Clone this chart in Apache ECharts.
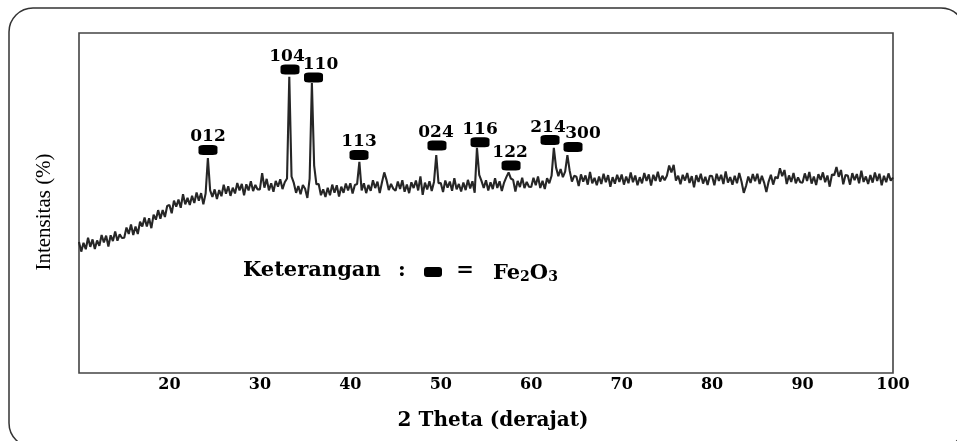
<!DOCTYPE html>
<html>
<head>
<meta charset="utf-8">
<script src="https://cdn.jsdelivr.net/npm/echarts@6/dist/echarts.min.js"></script>
<style>
html,body{margin:0;padding:0;background:#fff;}
#c{width:957px;height:441px;}
</style>
</head>
<body>
<div id="c"></div>
<script>
// ---- data ----
const thetaStart = 10;      // first 2θ sample
const thetaStep = 0.25;     // sampling step of the pattern
const intensity = [
  38.5,35.7,38.3,36.4,39.8,37.1,39.3,36.5,39.0,37.4,40.6,38.4,40.4,37.2,40.5,38.8,41.6,38.9,40.8,39.7,
  39.8,42.8,40.9,43.7,40.6,43.1,40.9,44.5,43.1,45.7,43.1,45.5,42.6,46.6,45.1,47.9,45.4,47.9,45.9,49.1,
  49.4,47.0,50.7,48.9,51.0,48.6,52.6,49.6,51.5,49.4,52.1,50.0,53.1,50.7,52.9,49.6,52.8,63.2,53.7,51.8,
  54.0,51.2,53.8,52.0,55.4,52.7,54.9,52.1,54.5,52.8,55.9,53.7,55.6,52.3,55.5,53.7,56.4,53.5,55.3,54.0,
  54.0,58.8,54.5,57.1,53.7,55.8,53.3,56.5,54.8,57.0,54.1,56.1,57.2,87.1,57.8,55.9,53.0,55.0,52.6,55.3,
  54.2,51.5,57.2,85.3,61.0,55.5,55.6,52.3,54.0,51.8,54.5,52.3,55.4,53.0,55.2,51.9,54.8,53.0,55.7,53.7,
  55.8,52.8,55.3,55.6,62.1,53.7,55.8,52.9,55.3,53.6,56.7,54.4,56.3,52.9,56.1,59.0,56.8,53.8,55.6,54.2,
  53.6,56.3,54.1,56.7,53.3,55.4,52.9,56.1,54.4,56.6,53.7,57.8,52.4,56.0,54.0,56.4,53.5,56.2,64.1,55.8,
  55.9,53.2,56.6,54.5,56.3,53.6,57.3,54.0,55.6,53.4,56.0,53.8,56.8,54.3,56.4,53.0,66.2,58.3,56.5,54.4,
  56.7,53.7,56.1,54.1,57.3,54.4,56.4,53.5,56.0,57.6,59.0,57.2,56.8,53.4,56.5,54.7,57.4,54.4,56.2,54.8,
  54.7,57.4,55.2,57.8,54.4,56.5,54.1,57.3,55.8,58.0,66.2,60.4,57.9,60.0,57.6,59.2,64.1,59.5,56.3,58.0,
  57.7,55.0,58.4,56.3,58.1,55.4,59.1,55.8,57.4,55.2,57.8,55.6,58.6,56.1,58.2,54.8,57.6,55.7,58.3,56.2,
  58.4,55.4,57.8,55.8,59.0,56.1,58.1,55.2,57.6,55.8,58.8,56.5,58.4,55.1,58.3,56.5,59.2,56.3,58.0,56.7,
  58.0,61.0,59.0,61.2,56.6,58.0,55.5,58.3,56.6,58.8,55.9,57.9,54.6,58.2,56.2,58.6,55.7,57.7,55.3,58.0,
  57.9,55.2,58.6,56.5,58.3,55.6,59.3,56.0,57.6,55.4,58.0,55.8,58.8,56.3,53.0,55.0,57.8,55.9,58.5,56.4,
  58.6,55.6,58.0,56.0,53.2,56.3,58.3,55.4,57.7,57.2,60.2,57.9,59.7,55.6,58.1,56.2,58.8,55.8,57.5,56.1,
  56.0,58.7,56.5,59.1,55.7,57.8,55.3,58.5,56.8,59.0,56.1,58.1,54.8,58.4,58.2,60.6,57.7,59.7,55.5,58.2,
  58.1,55.4,58.8,56.7,58.5,55.8,59.5,56.2,57.8,55.6,58.2,56.0,59.0,56.5,58.6,55.2,58.0,56.1,58.7,56.6,
  57.5
];
const peakLabels = ['012','104','110','113','024','116','122','214','300'];
const markerTheta = [24.26,33.33,35.93,40.96,49.58,54.34,57.77,62.08,64.62];
const markerLevel = [65.6,89.3,86.9,64.1,66.9,67.9,61.0,68.5,66.5];
const xTicks = [20,30,40,50,60,70,80,90,100];
const xTitle = '2 Theta (derajat)';
const yTitle = 'Intensitas (%)';
const legendText = 'Keterangan';
const legendPhase = ['Fe', '2', 'O', '3'];

// label nudges (layout only)
const labelDx = [0,-3,7,0,-1,0,-1,-2,10];

const pattern = intensity.map((v, i) => [thetaStart + i * thetaStep, v]);
const markers = markerTheta.map((t, i) => ({
  value: [t, markerLevel[i]],
  name: peakLabels[i],
  label: { offset: [labelDx[i], -13] }
}));

const chart = echarts.init(document.getElementById('c'), null, { renderer: 'canvas' });
const bold = { fontFamily: 'DejaVu Serif', fontWeight: 'bold', color: '#000' };

chart.setOption({
  animation: false,
  backgroundColor: '#fff',
  grid: {
    left: 79, right: 64, top: 33, bottom: 68,
    show: true, borderColor: '#444', borderWidth: 1.6, backgroundColor: 'transparent'
  },
  xAxis: {
    type: 'value', min: 10, max: 100, interval: 10,
    axisLine: { show: false }, axisTick: { show: false }, splitLine: { show: false },
    axisLabel: Object.assign({ fontSize: 16, margin: 4, showMinLabel: false,
      formatter: v => (xTicks.indexOf(v) >= 0 ? String(v) : '') }, bold),
    name: xTitle, nameLocation: 'middle', nameGap: 38,
    nameTextStyle: Object.assign({ fontSize: 20, padding: [0, 0, 0, 14] }, bold)
  },
  yAxis: {
    type: 'value', min: 0, max: 100,
    axisLine: { show: false }, axisTick: { show: false }, splitLine: { show: false },
    axisLabel: { show: false },
    name: yTitle, nameLocation: 'middle', nameGap: 24,
    nameTextStyle: { fontFamily: 'Liberation Serif', fontSize: 21, color: '#000', padding: [0, 18, 0, 0] }
  },
  series: [
    {
      type: 'line', data: pattern, showSymbol: false, symbol: 'none',
      lineStyle: { color: '#262626', width: 2.1 }, z: 2
    },
    {
      type: 'scatter', data: markers, symbol: 'roundRect', symbolSize: [19, 10],
      itemStyle: { color: '#000', opacity: 1 }, z: 3,
      label: Object.assign({ show: true, position: 'inside', formatter: p => p.name, fontSize: 17,
        textBorderWidth: 0 }, bold)
    }
  ],
  graphic: [
    {
      type: 'rect', silent: true, z: -1,
      shape: { x: 9, y: 8, width: 956, height: 439, r: 24 },
      style: { fill: 'none', stroke: '#333', lineWidth: 1.5 }
    },
    {
      type: 'text', x: 243, y: 271,
      style: { text: legendText, font: 'bold 21px "DejaVu Serif"', fill: '#000', verticalAlign: 'middle' }
    },
    {
      type: 'text', x: 402, y: 271,
      style: { text: ':', font: 'bold 21px "DejaVu Serif"', fill: '#000', align: 'center', verticalAlign: 'middle' }
    },
    {
      type: 'rect', shape: { x: 424, y: 267, width: 18, height: 10, r: 3 }, style: { fill: '#000' }
    },
    {
      type: 'text', x: 465, y: 271,
      style: { text: '=', font: 'bold 21px "DejaVu Serif"', fill: '#000', align: 'center', verticalAlign: 'middle' }
    },
    {
      type: 'text', x: 493, y: 271,
      style: {
        text: '{a|' + legendPhase[0] + '}{s|' + legendPhase[1] + '}{a|' + legendPhase[2] + '}{s|' + legendPhase[3] + '}',
        align: 'left', verticalAlign: 'middle',
        rich: {
          a: { font: 'bold 21px "DejaVu Serif"', fill: '#000', lineHeight: 26, verticalAlign: 'bottom' },
          s: { font: 'bold 14px "DejaVu Serif"', fill: '#000', lineHeight: 26, verticalAlign: 'bottom' }
        }
      }
    }
  ]
});
</script>
</body>
</html>
